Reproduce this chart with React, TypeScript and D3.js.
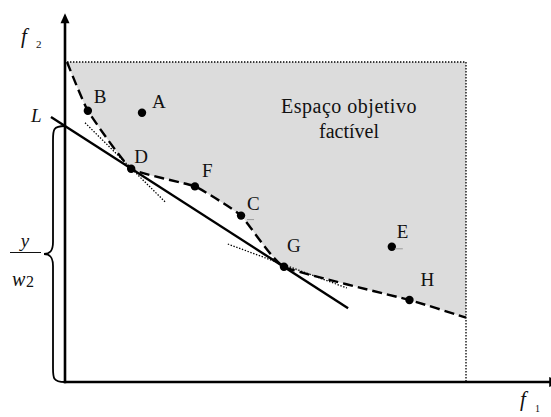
import React from "react";
import * as d3 from "d3";

// Objective space (f1, f2) in arbitrary units
const pointNames = ["A", "B", "C", "D", "E", "F", "G", "H"];
const pointF1 = [1.92, 0.57, 4.39, 1.65, 8.15, 3.24, 5.46, 8.59];
const pointF2 = [6.73, 6.78, 4.16, 5.33, 3.38, 4.89, 2.88, 2.05];
// label offsets in px (left, baseline) relative to the dot
const labelDx = [10, 6, 6, 3, 5, 7, 3, 11];
const labelDy = [-5, -8, -6, -6, -9, -9, -15, -14];

// Pareto front (boundary of the feasible region), ordered by f1
const frontF1 = [0.05, 0.57, 1.65, 3.24, 4.39, 5.46, 8.59, 10.0];
const frontF2 = [8.0, 6.78, 5.33, 4.89, 4.16, 2.88, 2.05, 1.61];

// bounding box of the feasible objective space
const boxF1Max = 10.0;
const boxF2Max = 8.0;

// weighted-sum line L: f2 = y/w2 + slope * f1
const lineIntercept = 6.4;
const lineSlope = -0.645;
const lineF1Range = [-0.35, 7.06];

// supporting tangents at D and G
const tangentD = { f1: [0.5, 2.52], f2: [6.48, 4.48] };
const tangentG = { f1: [4.06, 7.03], f2: [3.45, 2.35] };

const axisF1Max = 12.1;
const axisF2Max = 9.22;

const W = 551;
const H = 417;
const FONT = '"Liberation Serif", "Times New Roman", serif';

export default function App() {
  const x = d3.scaleLinear().domain([0, 10]).range([65, 466]);
  const y = d3.scaleLinear().domain([0, 8]).range([382, 62]);

  const front = frontF1.map((f, i) => [f, frontF2[i]] as [number, number]);
  const frontLine = d3
    .line<[number, number]>()
    .x((d) => x(d[0]))
    .y((d) => y(d[1]))
    .curve(d3.curveCardinal.tension(0.6));
  const frontPath = frontLine(front) || "";
  const areaPath =
    frontPath +
    `L${x(boxF1Max)},${y(boxF2Max)}L${x(frontF1[0])},${y(boxF2Max)}Z`;

  const lx0 = lineF1Range[0];
  const lx1 = lineF1Range[1];
  const ly0 = lineIntercept + lineSlope * lx0;
  const ly1 = lineIntercept + lineSlope * lx1;

  const x0 = x(0);
  const y0 = y(0);
  const yTop = y(axisF2Max);
  const xRight = x(axisF1Max);

  // curly brace spanning 0..intercept on the f2 axis
  const bTop = y(lineIntercept);
  const bBot = y0;
  const bMid = (bTop + bBot) / 2;
  const bx = x0 - 12;
  const tip = x0 - 21;
  const bracePath = [
    `M${x0},${bTop}`,
    `C${bx},${bTop} ${bx},${bTop + 4} ${bx},${bTop + 14}`,
    `L${bx},${bMid - 12}`,
    `C${bx},${bMid - 3} ${bx - 3},${bMid} ${tip},${bMid}`,
    `C${bx - 3},${bMid} ${bx},${bMid + 3} ${bx},${bMid + 12}`,
    `L${bx},${bBot - 14}`,
    `C${bx},${bBot - 4} ${bx},${bBot} ${x0},${bBot}`,
  ].join(" ");

  const dotted = { stroke: "#000", strokeWidth: 1.3, strokeDasharray: "1.4,1.6", fill: "none" };
  const txt = { fontFamily: FONT, fill: "#111" };

  return (
    <svg
      width={W}
      height={H}
      style={{ position: "absolute", left: 0, top: 0, background: "#fff", fontFamily: FONT }}
    >
      {/* feasible region */}
      <path d={areaPath} fill="#dcdcdc" stroke="none" />
      <line x1={x(frontF1[0])} y1={y(boxF2Max)} x2={x(boxF1Max)} y2={y(boxF2Max)} {...dotted} />
      <line x1={x(boxF1Max)} y1={y(boxF2Max)} x2={x(boxF1Max)} y2={y0} {...dotted} />

      {/* tangents */}
      {[tangentD, tangentG].map((t, i) => (
        <line key={i} x1={x(t.f1[0])} y1={y(t.f2[0])} x2={x(t.f1[1])} y2={y(t.f2[1])} {...dotted} />
      ))}

      {/* line L */}
      <line x1={x(lx0)} y1={y(ly0)} x2={x(lx1)} y2={y(ly1)} stroke="#000" strokeWidth={2.4} />

      {/* Pareto front */}
      <path d={frontPath} fill="none" stroke="#000" strokeWidth={2.4} strokeDasharray="10,5" />

      {/* axes */}
      <line x1={x0} y1={y0 + 1.2} x2={x0} y2={yTop + 8} stroke="#000" strokeWidth={2.6} />
      <path d={`M${x0},${yTop} L${x0 - 4.5},${yTop + 10} L${x0 + 4.5},${yTop + 10} Z`} fill="#000" />
      <line x1={x0 - 1.2} y1={y0} x2={xRight} y2={y0} stroke="#000" strokeWidth={2.6} />
      <path d={`M${xRight - 1},${y0 - 5} L${xRight - 1},${y0 + 5} L${xRight + 10},${y0} Z`} fill="#000" />

      {/* brace */}
      <path d={bracePath} fill="none" stroke="#000" strokeWidth={1.8} />

      {/* points */}
      {pointNames.map((n, i) => {
        const px = x(pointF1[i]);
        const py = y(pointF2[i]);
        return (
          <g key={n}>
            <circle cx={px} cy={py} r={4.2} fill="#000" />
            <text x={px + labelDx[i]} y={py + labelDy[i]} fontSize={19} style={txt}>
              {n}
            </text>
          </g>
        );
      })}
      {/* faint marks beside C and E */}
      <line x1={x(pointF1[2]) + 6} y1={y(pointF2[2]) + 4} x2={x(pointF1[2]) + 13} y2={y(pointF2[2]) + 4} stroke="#9a9a9a" strokeWidth={1} />
      <line x1={x(pointF1[4]) + 3} y1={y(pointF2[4]) + 2} x2={x(pointF1[4]) + 11} y2={y(pointF2[4]) + 2} stroke="#9a9a9a" strokeWidth={1} />

      {/* region label */}
      <text x={349} y={113} fontSize={20} letterSpacing={0.5} textAnchor="middle" style={txt}>
        Espaço objetivo
      </text>
      <text x={349} y={138} fontSize={20} textAnchor="middle" style={txt}>
        factível
      </text>

      {/* axis titles */}
      <text x={21} y={43} fontSize={21} fontStyle="italic" style={txt}>f</text>
      <text x={36} y={48} fontSize={11} style={txt}>2</text>
      <text x={520} y={406} fontSize={21} fontStyle="italic" style={txt}>f</text>
      <text x={535} y={412} fontSize={10} style={txt}>1</text>

      {/* L label */}
      <text x={31} y={122} fontSize={19} fontStyle="italic" style={txt}>L</text>

      {/* y / w2 */}
      <text x={25} y={247} fontSize={19} fontStyle="italic" textAnchor="middle" style={txt}>y</text>
      <line x1={10} y1={252.5} x2={41} y2={252.5} stroke="#111" strokeWidth={1} />
      <text x={12} y={286} fontSize={20} fontStyle="italic" style={txt}>w</text>
      <text x={26} y={287} fontSize={16} style={txt}>2</text>
    </svg>
  );
}
